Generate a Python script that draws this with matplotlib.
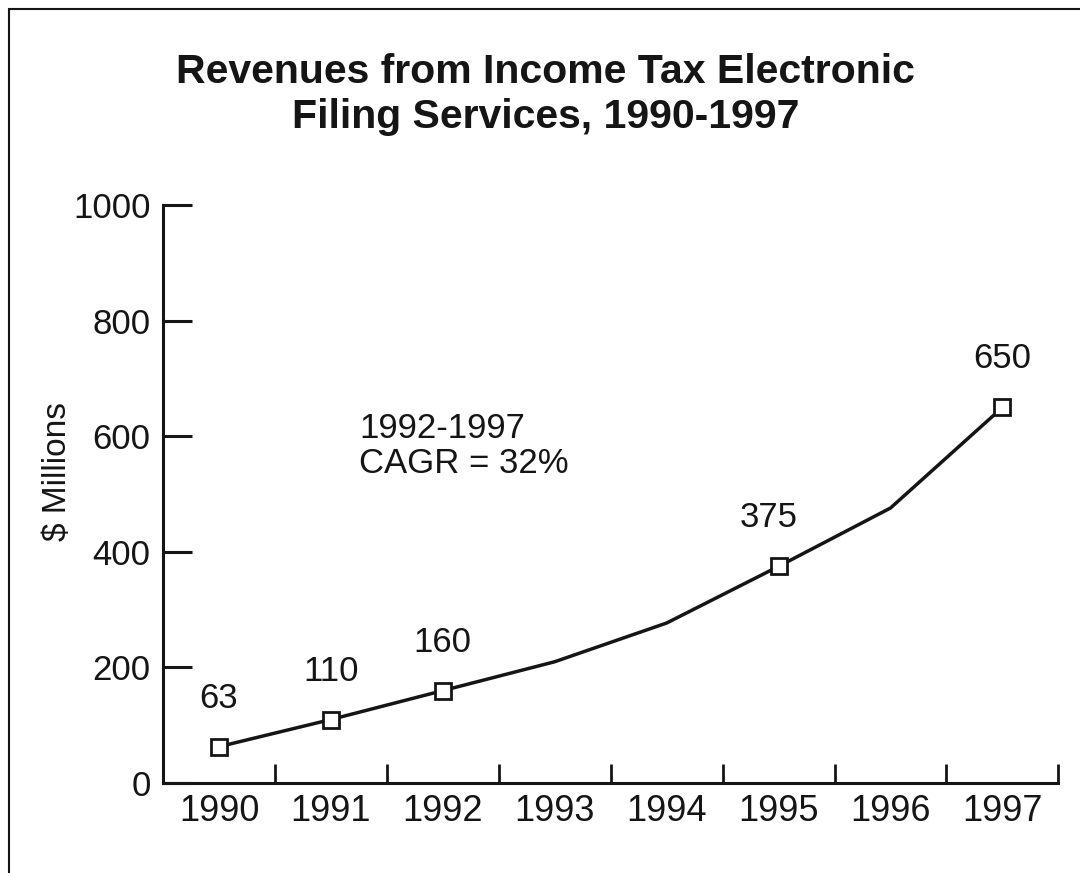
import matplotlib.pyplot as plt
from matplotlib.patches import Rectangle

# data
years = ['1990', '1991', '1992', '1993', '1994', '1995', '1996', '1997']
revenue = [63, 110, 160, 210, 277, 375, 476, 650]
labelled = [0, 1, 2, 5, 7]   # points that carry a marker and value label
label_text = ['63', '110', '160', '375', '650']

plt.rcParams['font.family'] = ['Liberation Sans', 'DejaVu Sans']
ink = '#151515'

fig = plt.figure(figsize=(10.8, 8.73), dpi=100)
ax = fig.add_axes([0.151, 0.103, 0.829, 0.662])

x = list(range(len(years)))
ax.plot(x, revenue, color=ink, lw=2.5, marker='s', markevery=labelled,
        markersize=12, markerfacecolor='white', markeredgecolor=ink,
        markeredgewidth=2, zorder=3)

# value labels above the marked points
for i, txt in zip(labelled, label_text):
    dx = -7 if txt == '375' else 0
    ax.annotate(txt, (x[i], revenue[i]), xytext=(dx, 23), textcoords='offset points',
                ha='center', va='bottom', fontsize=25, color=ink)

ax.text(1.25, 583, '1992-1997\nCAGR = 32%', fontsize=25, color=ink,
        ha='left', va='center', linespacing=1.1)

ax.set_xlim(-0.5, 7.5)
ax.set_ylim(0, 1000)
ax.set_yticks([0, 200, 400, 600, 800, 1000])
ax.set_xticks(x)
ax.set_xticklabels(years)
ax.set_xticks([i + 0.5 for i in x], minor=True)

ax.tick_params(axis='x', which='major', length=0, pad=8, labelsize=26, labelcolor=ink)
ax.tick_params(axis='x', which='minor', direction='in', length=14, width=2, color=ink)
ax.tick_params(axis='y', direction='in', length=21, width=2.2, pad=9,
               labelsize=25, color=ink, labelcolor=ink)

for side in ['top', 'right']:
    ax.spines[side].set_visible(False)
for side in ['left', 'bottom']:
    ax.spines[side].set_linewidth(2.2)
    ax.spines[side].set_color(ink)

ax.set_ylabel('$ Millions', fontsize=24, color=ink)
ax.yaxis.set_label_coords(-0.101, 0.54)

fig.text(0.505, 0.892, 'Revenues from Income Tax Electronic\nFiling Services, 1990-1997',
         ha='center', va='center', fontsize=29.5, fontweight='bold', color=ink,
         linespacing=1.22)

# frame around the page (left and top edges visible)
fig.patches.append(Rectangle((9 / 1080, -0.05), 1.1, 1 - 9 / 873 + 0.05,
                             transform=fig.transFigure, fill=False,
                             edgecolor=ink, lw=1.5))

fig.savefig('out.png', dpi=100)
